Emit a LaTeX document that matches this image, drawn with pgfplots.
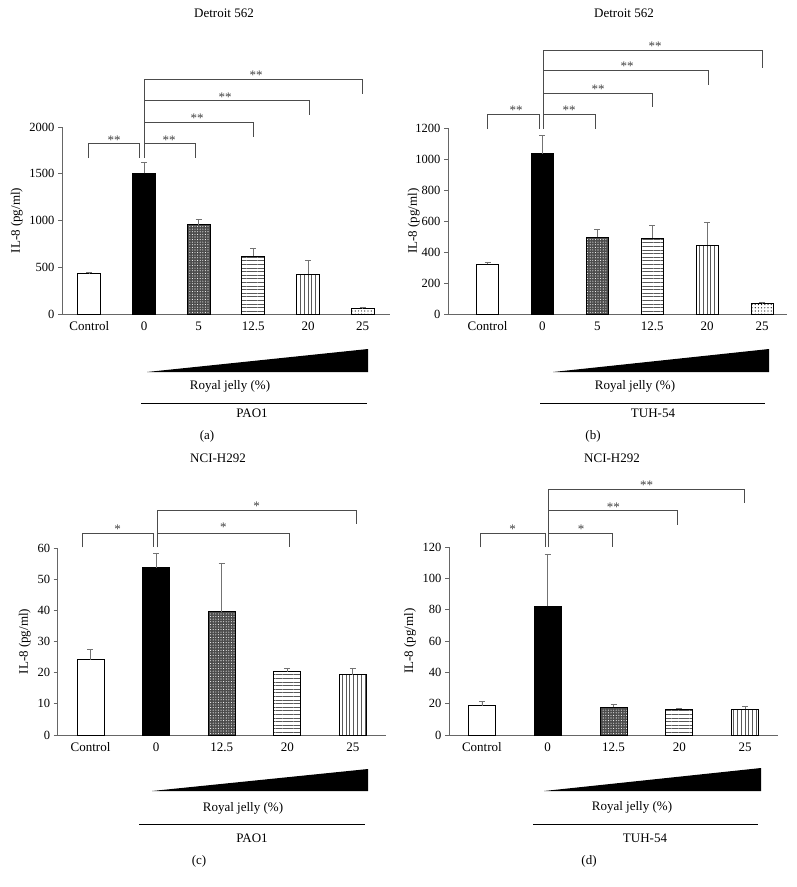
\documentclass[border=0pt]{standalone}
\usepackage{fontspec}
\setmainfont{Liberation Serif}
\usepackage{pgfplots}
\pgfplotsset{compat=1.18}
\usetikzlibrary{patterns,patterns.meta}

\newcommand{\fs}{\fontsize{13}{15}\selectfont}
\newcommand{\ft}{\fontsize{12.5}{14}\selectfont}
\pgfplotsset{
 panel/.style={scale only axis, anchor=south west, clip=false,
   axis x line*=bottom, axis y line*=left,
   axis line style={black!60, line width=0.8pt},
   tick align=outside, major tick length=4pt,
   ytick style={black!60, line width=0.8pt}, xtick style={draw=none},
   xtick={0,...,5}, ymin=0,
   tick label style={font=\ft},
   xticklabel style={font=\fs},
   /pgf/number format/assume math mode=true,
   /pgf/number format/1000 sep={},
   ylabel={IL-8 (pg/ml)}, ylabel style={font=\fs},
 },
 bar/.style={ybar, bar shift=0pt, draw=black, line width=0.8pt,
   error bars/y dir=plus, error bars/y explicit,
   error bars/error bar style={black!55, line width=0.8pt},
   error bars/error mark options={rotate=90, mark size=3pt, black!55, line width=0.8pt}},
 pchk/.style={fill=black!70, postaction={pattern={Dots[distance=2.6pt,radius=0.55pt]}, pattern color=white}},
 phor/.style={pattern={Lines[angle=0,distance=3.6pt,line width=0.5pt]}, pattern color=black!65},
 pver/.style={pattern={Lines[angle=90,distance=3.8pt,line width=0.5pt]}, pattern color=black!65},
 pdot/.style={pattern={Dots[distance=3.2pt,radius=0.6pt]}, pattern color=black},
}

\begin{document}
\begin{tikzpicture}
\path[use as bounding box] (0,0) rectangle (796pt,-887pt);

% ---------- (a)
\begin{axis}[panel, at={(62pt,-314pt)}, width=328pt, height=187pt,
  xmin=-0.5, xmax=5.5, ymax=2000, ytick={0,500,1000,1500,2000},
  xticklabels={Control,0,5,12.5,20,25}]
\addplot[bar, bar width=23pt, fill=white] coordinates {(0,430) +- (0,11)};
\addplot[bar, bar width=23pt, fill=black] coordinates {(1,1505) +- (0,118)};
\addplot[bar, bar width=23pt, pchk] coordinates {(2,954) +- (0,53)};
\addplot[bar, bar width=23pt, phor] coordinates {(3,619) +- (0,86)};
\addplot[bar, bar width=23pt, pver] coordinates {(4,427) +- (0,150)};
\addplot[bar, bar width=23pt, pdot] coordinates {(5,57) +- (0,18)};
\end{axis}

% ---------- (b)
\begin{axis}[panel, at={(448pt,-314pt)}, width=339pt, height=186pt,
  xmin=-0.72, xmax=5.455, ymax=1200, ytick={0,200,...,1200},
  xticklabels={Control,0,5,12.5,20,25}, ylabel shift=-11pt]
\addplot[bar, bar width=22pt, fill=white] coordinates {(0,321) +- (0,13)};
\addplot[bar, bar width=22pt, fill=black] coordinates {(1,1035) +- (0,118)};
\addplot[bar, bar width=22pt, pchk] coordinates {(2,495) +- (0,51)};
\addplot[bar, bar width=22pt, phor] coordinates {(3,491) +- (0,81)};
\addplot[bar, bar width=22pt, pver] coordinates {(4,444) +- (0,147)};
\addplot[bar, bar width=22pt, pdot] coordinates {(5,66) +- (0,11)};
\end{axis}

% ---------- (c)
\begin{axis}[panel, at={(57.7pt,-735pt)}, width=328pt, height=187pt,
  xmin=-0.5, xmax=4.5, ymax=60, ytick={0,10,...,60},
  xticklabels={Control,0,12.5,20,25}]
\addplot[bar, bar width=27pt, fill=white] coordinates {(0,24.2) +- (0,3.2)};
\addplot[bar, bar width=27pt, fill=black] coordinates {(1,53.7) +- (0,4.7)};
\addplot[bar, bar width=27pt, pchk] coordinates {(2,39.6) +- (0,15.6)};
\addplot[bar, bar width=27pt, phor] coordinates {(3,20.3) +- (0,1.0)};
\addplot[bar, bar width=27pt, pver] coordinates {(4,19.4) +- (0,1.9)};
\end{axis}

% ---------- (d)
\begin{axis}[panel, at={(449pt,-735pt)}, width=329pt, height=188pt,
  xmin=-0.5, xmax=4.5, ymax=120, ytick={0,20,...,120},
  xticklabels={Control,0,12.5,20,25}]
\addplot[bar, bar width=27pt, fill=white] coordinates {(0,18.8) +- (0,2.9)};
\addplot[bar, bar width=27pt, fill=black] coordinates {(1,82.1) +- (0,33.5)};
\addplot[bar, bar width=27pt, pchk] coordinates {(2,17.7) +- (0,1.7)};
\addplot[bar, bar width=27pt, phor] coordinates {(3,16.4) +- (0,0.6)};
\addplot[bar, bar width=27pt, pver] coordinates {(4,16.4) +- (0,2.1)};
\end{axis}

% ---------- annotations
\begin{scope}[x=1pt, y=-1pt, line width=0.8pt]
\tikzset{st/.style={font=\fontsize{13}{14}\selectfont, anchor=base, inner sep=0pt, text=black!75},
 tx/.style={font=\fs, inner sep=0pt}}
% titles
\node[tx] at (224,13) {Detroit 562};
\node[tx] at (624,13) {Detroit 562};
\node[tx] at (218,458) {NCI-H292};
\node[tx] at (612,458) {NCI-H292};

% brackets (a)
\draw[black!70] (88.3,158) -- (88.3,143.7) -- (139.3,143.7) -- (139.3,158);
\draw[black!70] (144,158) -- (144,79);
\draw[black!70] (144,143.7) -- (195.7,143.7) -- (195.7,158);
\draw[black!70] (144,122.3) -- (253.3,122.3) -- (253.3,137);
\draw[black!70] (144,100.7) -- (309.3,100.7) -- (309.3,115);
\draw[black!70] (144,79) -- (362.7,79) -- (362.7,94);
\node[st] at (114,144) {**};
\node[st] at (169,144) {**};
\node[st] at (197,122.6) {**};
\node[st] at (225,101) {**};
\node[st] at (256,79.3) {**};

% brackets (b)
\draw[black!70] (487.3,129) -- (487.3,114.3) -- (539,114.3) -- (539,129);
\draw[black!70] (543.3,129) -- (543.3,50);
\draw[black!70] (543.3,114.3) -- (595,114.3) -- (595,129);
\draw[black!70] (543.3,93.3) -- (652.7,93.3) -- (652.7,107.3);
\draw[black!70] (543.3,70.3) -- (708,70.3) -- (708,85);
\draw[black!70] (543.3,50) -- (762.3,50) -- (762.3,68);
\node[st] at (516,114.6) {**};
\node[st] at (569,114.6) {**};
\node[st] at (598,93.6) {**};
\node[st] at (627,70.6) {**};
\node[st] at (655,50.3) {**};

% brackets (c)
\draw[black!70] (82.3,547.3) -- (82.3,533) -- (153.3,533) -- (153.3,547.3);
\draw[black!70] (157.3,547.3) -- (157.3,510.3);
\draw[black!70] (157.3,533) -- (289.3,533) -- (289.3,547);
\draw[black!70] (157.3,510.3) -- (356,510.3) -- (356,524.3);
\node[st] at (117.7,533.3) {*};
\node[st] at (223.3,531.3) {*};
\node[st] at (256.7,510.6) {*};

% brackets (d)
\draw[black!70] (480,547.3) -- (480,533) -- (545,533) -- (545,547.3);
\draw[black!70] (548.7,547.3) -- (548.7,489.3);
\draw[black!70] (548.7,533) -- (612.3,533) -- (612.3,547.3);
\draw[black!70] (548.7,510.7) -- (677.3,510.7) -- (677.3,525);
\draw[black!70] (548.7,489.3) -- (744.3,489.3) -- (744.3,503.3);
\node[st] at (512.7,533.3) {*};
\node[st] at (581,533.3) {*};
\node[st] at (613.3,511) {**};
\node[st] at (646.7,489.6) {**};

% wedges, labels (a)
\fill (147,372) -- (368,372) -- (368,349) -- cycle;
\node[tx] at (230,386) {Royal jelly (\%)};
\draw[line width=0.7pt] (141,403) -- (367,403);
\node[tx] at (252,413.5) {PAO1};
\node[tx] at (207,436) {(a)};
% (b)
\fill (553,372) -- (769,372) -- (769,349) -- cycle;
\node[tx] at (635,386) {Royal jelly (\%)};
\draw[line width=0.7pt] (540,403) -- (765,403);
\node[tx] at (653,413.5) {TUH-54};
\node[tx] at (593,436) {(b)};
% (c)
\fill (152,791) -- (368,791) -- (368,769) -- cycle;
\node[tx] at (243,808) {Royal jelly (\%)};
\draw[line width=0.7pt] (139,824) -- (365,824);
\node[tx] at (252,838) {PAO1};
\node[tx] at (199,861) {(c)};
% (d)
\fill (544,791) -- (761,791) -- (761,768) -- cycle;
\node[tx] at (632,807) {Royal jelly (\%)};
\draw[line width=0.7pt] (533,824) -- (758,824);
\node[tx] at (645,838) {TUH-54};
\node[tx] at (589,861) {(d)};
\end{scope}
\end{tikzpicture}
\end{document}
